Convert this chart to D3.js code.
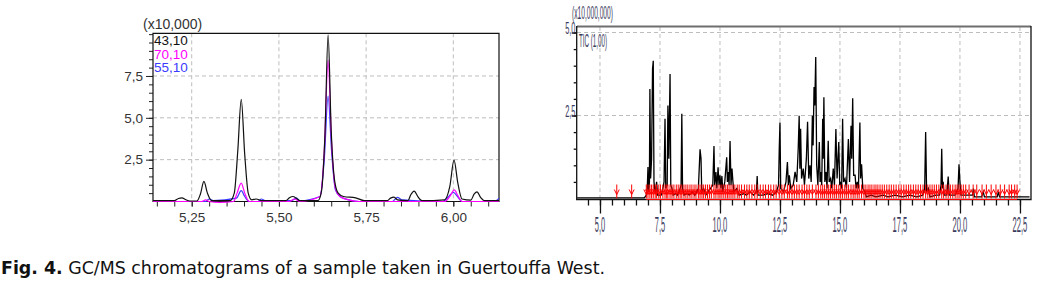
<!DOCTYPE html>
<html>
<head>
<meta charset="utf-8">
<script src="https://cdn.jsdelivr.net/npm/d3@7/dist/d3.min.js"></script>
<style>
    body { margin: 0; background: #fff; }
    svg { display: block; }
</style>
</head>
<body>
<script>
// left chart : ion traces, time in min, intensity x10,000
var leftXTicks = [5.25, 5.50, 5.75, 6.00];
var leftXLabels = ["5,25", "5,50", "5,75", "6,00"];
var leftYTicks = [2.5, 5.0, 7.5];
var leftYLabels = ["2,5", "5,0", "7,5"];
var leftSeriesNames = ["43,10", "70,10", "55,10"];

var ion43 = [[5.139,0.05],[5.20,0.05],[5.212,0.18],[5.222,0.22],[5.232,0.12],[5.245,0.03],[5.265,0.03],[5.275,0.45],[5.285,1.2],[5.295,0.5],[5.307,0.05],
    [5.36,0.05],[5.372,0.5],[5.382,3.0],[5.392,6.1],[5.402,2.8],[5.412,0.5],[5.422,0.1],[5.435,0.15],[5.45,0.05],
    [5.52,0.05],[5.53,0.22],[5.54,0.3],[5.55,0.2],[5.56,0.05],[5.612,0.05],[5.622,0.6],[5.632,4.0],[5.641,9.95],[5.650,4.2],[5.66,1.2],[5.67,0.5],
    [5.685,0.3],[5.72,0.22],[5.745,0.05],[5.81,0.05],[5.82,0.2],[5.83,0.26],[5.84,0.1],[5.87,0.05],[5.878,0.4],[5.888,0.62],[5.898,0.3],[5.91,0.05],
    [5.975,0.1],[5.99,0.9],[6.002,2.47],[6.013,1.1],[6.025,0.15],[6.05,0.08],[6.06,0.45],[6.068,0.58],[6.078,0.25],[6.09,0.05],[6.131,0.05]];
var ion70 = [[5.139,0.0],[5.278,0.0],[5.29,0.1],[5.30,0.0],[5.33,-0.05],[5.37,0.0],[5.38,0.5],[5.392,1.1],[5.402,0.5],[5.415,0.0],
    [5.53,0.0],[5.545,0.15],[5.56,0.0],[5.618,0.3],[5.63,3.0],[5.641,8.45],[5.651,3.5],[5.662,0.8],[5.675,0.3],[5.70,0.1],[5.73,0.0],
    [5.975,0.0],[5.99,0.3],[6.003,0.7],[6.013,0.35],[6.025,0.0],[6.131,0.0]];
var ion55 = [[5.139,0.0],[5.29,0.0],[5.30,0.15],[5.312,0.05],[5.378,0.2],[5.392,0.65],[5.402,0.3],[5.415,0.0],[5.44,0.0],[5.45,0.15],[5.46,0.05],
    [5.535,0.05],[5.55,0.2],[5.56,0.05],[5.618,0.3],[5.63,2.5],[5.641,6.3],[5.651,3.0],[5.662,0.7],[5.675,0.3],[5.70,0.1],[5.73,0.0],
    [5.825,0.0],[5.84,0.25],[5.852,0.1],[5.97,0.0],[5.987,0.3],[6.0,0.55],[6.012,0.3],[6.025,0.0],[6.118,0.0],[6.131,0.2]];

// right chart : TIC, time in min, intensity x10,000,000
var rightXTicks = [5.0, 7.5, 10.0, 12.5, 15.0, 17.5, 20.0, 22.5];
var rightXLabels = ["5,0", "7,5", "10,0", "12,5", "15,0", "17,5", "20,0", "22,5"];
var rightYTicks = [2.5, 5.0];
var rightYLabels = ["2,5", "5,0"];

var ticTrace = [[4.05,0.02],[6.85,0.02],[6.93,0.1],[6.97,0.3],[7.00,0.95],[7.03,0.2],[7.06,0.5],[7.08,3.3],[7.11,0.6],[7.15,1.2],[7.19,3.9],[7.22,4.15],[7.25,0.5],[7.30,0.15],[7.36,0.5],[7.40,0.1],
    [7.55,0.1],[7.62,0.3],[7.67,0.5],[7.71,2.4],[7.74,0.3],[7.80,0.4],[7.83,2.8],[7.87,1.2],[7.92,3.75],[7.95,0.4],[8.00,0.3],[8.05,0.1],[8.15,0.15],[8.22,0.1],[8.30,0.2],[8.38,0.4],[8.41,2.55],[8.44,0.3],[8.50,0.1],
    [8.65,0.15],[8.72,0.1],[8.85,0.2],[8.95,0.1],[9.10,0.3],[9.17,1.48],[9.21,1.2],[9.24,0.2],[9.32,0.3],[9.40,0.1],[9.50,0.2],[9.60,0.3],[9.70,0.4],[9.75,1.58],[9.78,0.4],[9.83,0.8],[9.87,0.3],[9.92,0.94],[9.96,0.4],
    [10.00,0.7],[10.04,0.3],[10.08,0.68],[10.12,0.2],[10.20,0.5],[10.28,1.24],[10.31,0.5],[10.35,0.8],[10.38,0.4],[10.42,1.73],[10.46,0.4],[10.50,0.9],[10.54,0.5],[10.58,0.2],[10.70,0.3],[10.80,0.1],
    [11.00,0.15],[11.10,0.1],[11.25,0.2],[11.40,0.1],[11.52,0.2],[11.55,0.68],[11.58,0.1],[11.80,0.1],[12.00,0.15],[12.20,0.1],[12.35,0.2],[12.44,0.4],[12.47,1.48],[12.50,2.29],[12.53,0.3],[12.65,0.2],[12.75,0.5],
    [12.81,1.1],[12.85,0.4],[12.89,0.7],[12.95,0.3],[13.05,0.4],[13.13,0.8],[13.20,0.5],[13.26,1.5],[13.30,2.49],[13.33,0.9],[13.36,2.1],[13.40,0.6],[13.47,0.9],[13.52,0.4],[13.60,1.2],[13.65,2.31],[13.70,0.6],
    [13.75,1.0],[13.80,0.5],[13.85,2.5],[13.88,1.6],[13.92,3.36],[13.95,2.8],[13.99,4.26],[14.03,1.0],[14.08,0.4],[14.14,1.7],[14.17,0.5],[14.20,0.8],[14.24,0.4],[14.28,2.4],[14.30,1.2],[14.33,3.05],[14.37,0.5],
    [14.42,0.8],[14.46,0.3],[14.51,1.74],[14.55,0.5],[14.61,0.6],[14.66,0.3],[14.72,0.9],[14.77,0.4],[14.83,2.09],[14.88,0.6],[14.95,1.7],[14.99,0.4],[15.03,0.5],[15.07,0.3],[15.11,2.4],[15.15,0.5],[15.21,0.6],
    [15.27,0.3],[15.35,1.79],[15.40,0.5],[15.46,2.19],[15.49,1.2],[15.53,3.02],[15.57,0.7],[15.63,0.7],[15.67,0.3],[15.72,0.5],[15.77,0.3],[15.83,2.29],[15.86,0.6],[15.90,1.03],[15.95,0.3],[16.04,0.2],[16.10,0.05],
    [16.30,0.1],[16.50,0.05],[16.80,0.1],[17.00,0.05],[17.30,0.1],[17.60,0.05],[17.90,0.1],[18.20,0.05],[18.45,0.1],[18.53,0.3],[18.57,2.0],[18.61,0.2],[18.68,0.3],[18.75,0.05],[19.00,0.1],[19.15,0.1],[19.21,0.4],
    [19.24,1.5],[19.27,0.3],[19.30,0.5],[19.34,0.1],[19.45,0.1],[19.51,0.66],[19.55,0.1],[19.80,0.1],[19.92,0.3],[19.96,1.03],[20.00,0.5],[20.04,0.1],[20.30,0.1],[20.52,0.1],[20.56,0.3],[20.60,0.05],[20.90,0.05],
    [20.97,0.2],[21.02,0.05],[21.55,0.05],[21.60,0.2],[21.65,0.05],[22.90,0.05]];

// peak markers (red arrows) along the baseline, min
var peakMarks = [5.70, 6.32, 6.93, 7.00, 7.08, 7.15, 7.22, 7.30, 7.36, 7.45, 7.52, 7.62, 7.71, 7.78, 7.83, 7.92, 8.00, 8.08, 8.18, 8.26, 8.34, 8.41, 8.50, 8.58, 8.66, 8.75, 8.83, 8.92,
    9.00, 9.10, 9.17, 9.25, 9.32, 9.40, 9.48, 9.56, 9.64, 9.75, 9.83, 9.92, 10.00, 10.08, 10.16, 10.24, 10.31, 10.38, 10.46, 10.54, 10.62, 10.72, 10.80, 10.90, 11.02, 11.12, 11.22, 11.33, 11.45,
    11.55, 11.68, 11.80, 11.90, 12.02, 12.12, 12.24, 12.34, 12.47, 12.58, 12.68, 12.81, 12.89, 13.00, 13.10, 13.20, 13.30, 13.42, 13.52, 13.62, 13.72, 13.85, 14.00, 14.10, 14.20, 14.28, 14.36,
    14.45, 14.53, 14.61, 14.70, 14.78, 14.86, 14.95, 15.03, 15.11, 15.20, 15.28, 15.36, 15.46, 15.55, 15.63, 15.72, 15.80, 15.90, 16.00, 16.08, 16.17, 16.25, 16.33, 16.42, 16.50, 16.58, 16.67,
    16.76, 16.85, 16.95, 17.05, 17.14, 17.24, 17.34, 17.45, 17.55, 17.66, 17.76, 17.86, 17.95, 18.06, 18.16, 18.26, 18.36, 18.46, 18.57, 18.66, 18.75, 18.84, 18.93, 19.02, 19.12, 19.24, 19.32,
    19.42, 19.51, 19.60, 19.70, 19.80, 19.88, 19.96, 20.05, 20.14, 20.24, 20.38, 20.55, 20.70, 20.92, 21.10, 21.30, 21.50, 21.68, 21.86, 22.05, 22.15, 22.28, 22.38];

var captionBold = "Fig. 4.";
var captionText = " GC/MS chromatograms of a sample taken in Guertouffa West.";

var svg = d3.select("body").append("svg")
    .attr("width", 1037)
    .attr("height", 289);

leftChart();
rightChart();
caption();


function leftChart() {
    var x = d3.scaleLinear().domain([5.139, 6.131]).range([153, 499]),
        y = d3.scaleLinear().domain([0, 10.05]).range([201.5, 33.3]);
    var g = svg.append("g").attr("class", "left");
    var font = "'Liberation Sans', Arial, sans-serif";

    // grid
    g.selectAll(".gx").data(leftXTicks).enter().append("line")
        .attr("x1", function(d) { return x(d); }).attr("x2", function(d) { return x(d); })
        .attr("y1", y.range()[1]).attr("y2", y.range()[0])
        .attr("stroke", "#bdbdbd").attr("stroke-dasharray", "4,3");
    g.selectAll(".gy").data(leftYTicks).enter().append("line")
        .attr("x1", 153).attr("x2", 499)
        .attr("y1", function(d) { return y(d); }).attr("y2", function(d) { return y(d); })
        .attr("stroke", "#bdbdbd").attr("stroke-dasharray", "4,3");

    // axes
    var xMinor = d3.axisBottom(x).tickValues(d3.range(5.15, 6.131, 0.05)).tickSize(5).tickFormat("");
    var xMajor = d3.axisBottom(x).tickValues(leftXTicks).tickSize(5).tickPadding(6)
        .tickFormat(function(d, i) { return leftXLabels[i]; });
    var yMinor = d3.axisLeft(y).tickValues(d3.range(0.5, 10.01, 0.5)).tickSize(4).tickFormat("");
    var yMajor = d3.axisLeft(y).tickValues(leftYTicks).tickSize(7).tickPadding(3)
        .tickFormat(function(d, i) { return leftYLabels[i]; });

    [xMinor, xMajor].forEach(function(a) {
        g.append("g").attr("transform", "translate(0," + 201.5 + ")").call(a)
            .call(function(s) { s.select(".domain").remove(); });
    });
    [yMinor, yMajor].forEach(function(a) {
        g.append("g").attr("transform", "translate(153,0)").call(a)
            .call(function(s) { s.select(".domain").remove(); });
    });
    g.selectAll(".tick line").attr("stroke", "#222");
    g.selectAll(".tick text").attr("fill", "#333").style("font-family", font).style("font-size", "13.5px");

    // frame
    g.append("path")
        .attr("d", "M153,33.3H499V201.5H153Z")
        .attr("fill", "none").attr("stroke", "#111").attr("stroke-width", 1.2);

    var line = d3.line()
        .x(function(d) { return x(d[0]); })
        .y(function(d) { return y(d[1]); })
        .curve(d3.curveMonotoneX);

    var traces = [
        {data: ion55, color: "#3b3bff"},
        {data: ion70, color: "#ff00ff"},
        {data: ion43, color: "#111"}
    ];
    g.selectAll(".trace").data(traces).enter().append("path")
        .attr("class", "trace")
        .attr("d", function(d) { return line(d.data); })
        .attr("fill", "none")
        .attr("stroke", function(d) { return d.color; })
        .attr("stroke-width", 1.2);

    g.append("text").attr("x", 143).attr("y", 29)
        .style("font-family", font).style("font-size", "14px").attr("fill", "#333")
        .text("(x10,000)");

    var colors = ["#111", "#ff00ff", "#3b3bff"];
    g.selectAll(".sname").data(leftSeriesNames).enter().append("text")
        .attr("x", 154)
        .attr("y", function(d, i) { return 45 + i * 13.5; })
        .attr("fill", function(d, i) { return colors[i]; })
        .style("font-family", font).style("font-size", "13.5px")
        .text(function(d) { return d; });
}


// squeeze a text horizontally to a given width, anchored at x (left) or centre
function narrowText(g, s, x, y, w, size, anchor, color) {
    var t = g.append("text")
        .attr("fill", color)
        .style("font-family", "'Liberation Sans', Arial, sans-serif")
        .style("font-size", size + "px")
        .text(s);
    var natural = t.node().getComputedTextLength();
    var k = w / natural;
    var x0 = anchor === "middle" ? x - w / 2 : anchor === "end" ? x - w : x;
    t.attr("transform", "translate(" + x0 + "," + y + ") scale(" + k + ",1)");
    return t;
}


function rightChart() {
    var x = d3.scaleLinear().domain([4.03, 22.96]).range([576.7, 1031]),
        y = d3.scaleLinear().domain([0, 5]).range([198.5, 32.5]);
    var g = svg.append("g").attr("class", "right");
    var txt = "#3a3a5c";

    g.selectAll(".gx").data(rightXTicks).enter().append("line")
        .attr("x1", function(d) { return x(d); }).attr("x2", function(d) { return x(d); })
        .attr("y1", 27).attr("y2", 198)
        .attr("stroke", "#bdbdbd").attr("stroke-dasharray", "4,3");
    g.selectAll(".gy").data(rightYTicks).enter().append("line")
        .attr("x1", 577).attr("x2", 1031)
        .attr("y1", function(d) { return y(d); }).attr("y2", function(d) { return y(d); })
        .attr("stroke", "#bdbdbd").attr("stroke-dasharray", "4,3");

    var xMinor = d3.axisBottom(x).tickValues(d3.range(4.5, 22.96, 0.5)).tickSize(6).tickFormat("");
    var xMajor = d3.axisBottom(x).tickValues(rightXTicks).tickSize(14).tickFormat("");
    var yMinor = d3.axisLeft(y).tickValues(d3.range(0.5, 5.01, 0.5)).tickSize(3).tickFormat("");
    var yMajor = d3.axisLeft(y).tickValues(rightYTicks).tickSize(5).tickFormat("");
    [xMinor, xMajor].forEach(function(a) {
        g.append("g").attr("transform", "translate(0,199.5)").call(a)
            .call(function(s) { s.select(".domain").remove(); });
    });
    [yMinor, yMajor].forEach(function(a) {
        g.append("g").attr("transform", "translate(576.7,0)").call(a)
            .call(function(s) { s.select(".domain").remove(); });
    });
    g.selectAll(".tick line").attr("stroke", "#111").attr("stroke-width", 1.3);

    // narrow, tall tick labels
    function labelWidth(s) {
        return s.replace(/,/g, "").length * 4.4 + 1.5;
    }
    rightXTicks.forEach(function(d, i) {
        narrowText(g, rightXLabels[i], x(d), 232, labelWidth(rightXLabels[i]), 22, "middle", txt);
    });
    rightYTicks.forEach(function(d, i) {
        narrowText(g, rightYLabels[i], 575.5, y(d) + 1, labelWidth(rightYLabels[i]), 16, "end", txt);
    });

    narrowText(g, "(x10,000,000)", 572, 19, 41, 18, "start", txt);
    narrowText(g, "TIC (1,00)", 579, 47, 28, 18, "start", txt);

    // frame
    g.append("line").attr("x1", 577).attr("x2", 1031).attr("y1", 26.5).attr("y2", 26.5)
        .attr("stroke", "#6e6e6e").attr("stroke-width", 2);
    g.append("path").attr("d", "M1031,26V199.5H576.7V26")
        .attr("fill", "none").attr("stroke", "#111").attr("stroke-width", 1.3);

    var line = d3.line()
        .x(function(d) { return x(d[0]); })
        .y(function(d) { return y(d[1]); });
    g.append("path")
        .attr("d", line(ticTrace))
        .attr("fill", "none")
        .attr("stroke", "#000")
        .attr("stroke-width", 1.3);

    // red peak markers
    var y0 = 199.5;
    g.append("line")
        .attr("x1", x(peakMarks[2])).attr("x2", x(peakMarks[peakMarks.length - 1]))
        .attr("y1", y0).attr("y2", y0)
        .attr("stroke", "#ff0000").attr("stroke-width", 1.2);
    var marks = g.selectAll(".mark").data(peakMarks).enter().append("g")
        .attr("transform", function(d) { return "translate(" + x(d) + "," + y0 + ")"; });
    marks.append("path")
        .attr("d", "M0,-1V-15M-2.5,-10L0,-5L2.5,-10")
        .attr("fill", "none").attr("stroke", "#ff0000").attr("stroke-width", 1);
}


function caption() {
    var t = svg.append("text")
        .attr("x", 1).attr("y", 274)
        .attr("textLength", 604).attr("lengthAdjust", "spacingAndGlyphs")
        .style("font-family", "'DejaVu Sans', Verdana, sans-serif")
        .style("font-size", "17px")
        .attr("fill", "#111");
    t.append("tspan").style("font-weight", "bold").text(captionBold);
    t.append("tspan").text(captionText);
}
</script>
</body>
</html>
